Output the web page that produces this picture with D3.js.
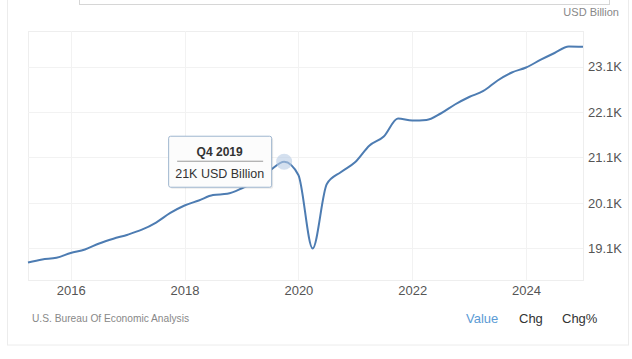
<!DOCTYPE html>
<html>
<head>
<meta charset="utf-8">
<script src="https://cdn.jsdelivr.net/npm/d3@7"></script>
<style>
  html, body { margin: 0; padding: 0; background: #ffffff; }
  svg { display: block; font-family: "Liberation Sans", Arial, sans-serif; }
</style>
</head>
<body>
<svg id="chart" width="632" height="359"></svg>
<script>
// ---- data (US GDP, USD Billion, quarterly) ----
const periods = [
  "Q2 2015","Q3 2015","Q4 2015",
  "Q1 2016","Q2 2016","Q3 2016","Q4 2016",
  "Q1 2017","Q2 2017","Q3 2017","Q4 2017",
  "Q1 2018","Q2 2018","Q3 2018","Q4 2018",
  "Q1 2019","Q2 2019","Q3 2019","Q4 2019",
  "Q1 2020","Q2 2020","Q3 2020","Q4 2020",
  "Q1 2021","Q2 2021","Q3 2021","Q4 2021",
  "Q1 2022","Q2 2022","Q3 2022","Q4 2022",
  "Q1 2023","Q2 2023","Q3 2023","Q4 2023",
  "Q1 2024","Q2 2024","Q3 2024","Q4 2024",
  "Q1 2025"
];
const gdpValues = [
  18.787, 18.853, 18.893,
  18.996, 19.074, 19.206, 19.311,
  19.400, 19.510, 19.668, 19.878,
  20.043, 20.153, 20.274, 20.300,
  20.417, 20.582, 20.814, 21.007,
  20.715, 19.096, 20.516, 20.780,
  21.000, 21.364, 21.563, 21.959,
  21.915, 21.926, 22.069, 22.267,
  22.433, 22.565, 22.796, 22.972,
  23.082, 23.248, 23.402, 23.545,
  23.538
];
const yTickValues = [19.1, 20.1, 21.1, 22.1, 23.1];
const yTickLabels = ["19.1K", "20.1K", "21.1K", "22.1K", "23.1K"];
const xTickValues = [2016, 2018, 2020, 2022, 2024];
const highlightPeriod = "Q4 2019";
const unitLabel = "USD Billion";
const sourceLabel = "U.S. Bureau Of Economic Analysis";
const modeLabels = ["Value", "Chg", "Chg%"];

// ---- helpers ----
function periodToYear(p) {
  const q = +p.charAt(1);
  const yr = +p.slice(3);
  return yr + (q - 1) / 4;
}
const data = periods.map((p, i) => ({ period: p, t: periodToYear(p), v: gdpValues[i] }));

const svg = d3.select("#chart");
const plot = { left: 28, right: 583, top: 31, bottom: 280 };

const x = d3.scaleLinear()
  .domain([periodToYear(periods[0]), periodToYear(periods[periods.length - 1])])
  .range([plot.left, plot.right]);
const y = d3.scaleLinear()
  .domain([18.402, 23.886])
  .range([plot.bottom, plot.top]);

// outer container frame
svg.append("rect")
  .attr("x", 7.5).attr("y", -5).attr("width", 621).attr("height", 350)
  .attr("fill", "#fff").attr("stroke", "#ececec");
// header box at top (partially visible)
svg.append("rect")
  .attr("x", 79.5).attr("y", -20).attr("width", 530).attr("height", 24.5)
  .attr("fill", "#fff").attr("stroke", "#d6d6d6");

// unit label
svg.append("text")
  .attr("x", 619).attr("y", 16)
  .attr("text-anchor", "end")
  .attr("font-size", 11).attr("fill", "#888")
  .text(unitLabel);

// plot frame
svg.append("rect")
  .attr("x", plot.left + 0.5).attr("y", plot.top + 0.5)
  .attr("width", plot.right - plot.left).attr("height", plot.bottom - plot.top)
  .attr("fill", "none").attr("stroke", "#eeeeee");

// gridlines
const gx = svg.append("g").attr("class", "grid-x");
xTickValues.forEach(t => {
  gx.append("line")
    .attr("x1", Math.round(x(t)) + 0.5).attr("x2", Math.round(x(t)) + 0.5)
    .attr("y1", plot.top).attr("y2", plot.bottom)
    .attr("stroke", "#f2f2f2");
});
const gy = svg.append("g").attr("class", "grid-y");
yTickValues.forEach(v => {
  gy.append("line")
    .attr("x1", plot.left).attr("x2", plot.right)
    .attr("y1", Math.round(y(v)) + 0.5).attr("y2", Math.round(y(v)) + 0.5)
    .attr("stroke", "#f2f2f2");
});

// axes (labels only)
const xAxis = d3.axisBottom(x).tickValues(xTickValues).tickFormat(d3.format("d")).tickSize(0);
const xg = svg.append("g").attr("transform", `translate(0,${plot.bottom})`).call(xAxis);
xg.select(".domain").remove();
xg.selectAll("text").attr("font-size", 13).attr("fill", "#555")
  .attr("font-family", "Liberation Sans, Arial, sans-serif").attr("dy", "0.95em");

const yAxis = d3.axisRight(y).tickValues(yTickValues)
  .tickFormat((d, i) => yTickLabels[i]).tickSize(0);
const yg = svg.append("g").attr("transform", `translate(${plot.right + 5},0)`).call(yAxis);
yg.select(".domain").remove();
yg.selectAll("text").attr("font-size", 13).attr("fill", "#555")
  .attr("font-family", "Liberation Sans, Arial, sans-serif").attr("x", 0);

// line
const line = d3.line().x(d => x(d.t)).y(d => y(d.v)).curve(d3.curveMonotoneX);
svg.append("path")
  .datum(data)
  .attr("d", line)
  .attr("fill", "none")
  .attr("stroke", "#4d7cb2")
  .attr("stroke-width", 2)
  .attr("stroke-linejoin", "round");

// highlight
const hp = data.find(d => d.period === highlightPeriod);
const cx = x(hp.t), cy = y(hp.v);
svg.append("circle")
  .attr("cx", cx).attr("cy", cy).attr("r", 8)
  .attr("fill", "#b8cce4").attr("fill-opacity", 0.6);

// tooltip
const tw = 103, th = 51;
const tx = cx - 116, ty = cy - 26;
const tip = svg.append("g").attr("transform", `translate(${tx},${ty})`);
tip.append("rect")
  .attr("x", 2).attr("y", 2).attr("width", tw).attr("height", th)
  .attr("rx", 2).attr("fill", "#000").attr("fill-opacity", 0.08);
tip.append("rect")
  .attr("x", 0.5).attr("y", 0.5).attr("width", tw).attr("height", th)
  .attr("rx", 2).attr("fill", "#fcfcfc").attr("stroke", "#9fb6cf");
tip.append("text")
  .attr("x", tw / 2).attr("y", 20)
  .attr("text-anchor", "middle")
  .attr("font-size", 12).attr("font-weight", "bold").attr("fill", "#333")
  .text(hp.period);
tip.append("line")
  .attr("x1", 9).attr("x2", tw - 8)
  .attr("y1", 25.5).attr("y2", 25.5)
  .attr("stroke", "#999");
tip.append("text")
  .attr("x", tw / 2).attr("y", 42)
  .attr("text-anchor", "middle")
  .attr("font-size", 12.5).attr("fill", "#333")
  .text(Math.round(hp.v) + "K " + unitLabel);

// footer
svg.append("text")
  .attr("x", 32).attr("y", 322)
  .attr("font-size", 10.5).attr("fill", "#888")
  .attr("textLength", 157).attr("lengthAdjust", "spacingAndGlyphs")
  .text(sourceLabel);
const modeX = [466, 519, 562];
const modeColors = ["#5b9bd5", "#333", "#333"];
modeLabels.forEach((m, i) => {
  svg.append("text")
    .attr("x", modeX[i]).attr("y", 323)
    .attr("font-size", 13).attr("fill", modeColors[i])
    .text(m);
});
</script>
</body>
</html>
